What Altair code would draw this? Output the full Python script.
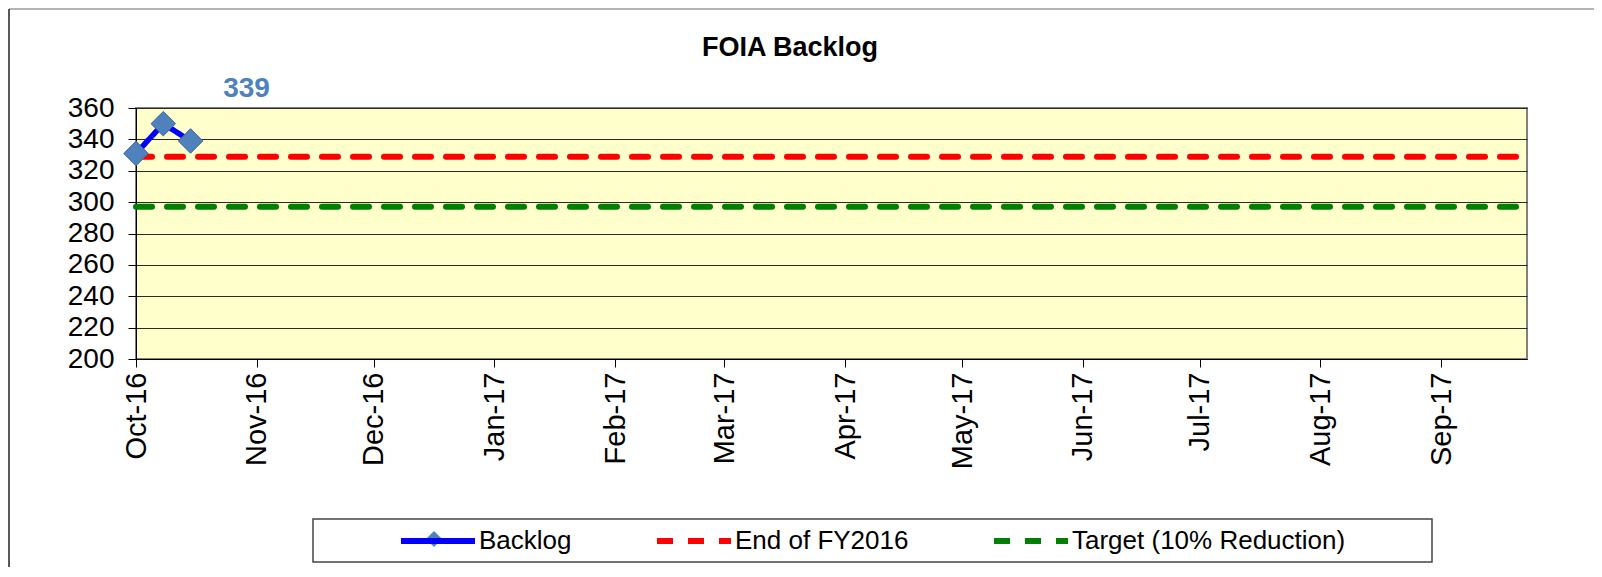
import altair as alt
import pandas as pd

# ---- data ----
series_names = ["Backlog", "End of FY2016", "Target (10% Reduction)"]
series_colors = ["#0000FF", "#FF0000", "#008000"]

backlog_dates = ["2016-10-01", "2016-10-08", "2016-10-15"]
backlog_values = [331, 350, 339]

ref_dates = ["2016-10-01", "2017-09-23"]
fy2016_end = 329
target_value = 297

month_ticks = [(2016, 10), (2016, 11), (2016, 12), (2017, 1), (2017, 2), (2017, 3),
               (2017, 4), (2017, 5), (2017, 6), (2017, 7), (2017, 8), (2017, 9)]
y_ticks = [200, 220, 240, 260, 280, 300, 320, 340, 360]
chart_title = "FOIA Backlog"

# ---- tables ----
rows = []
for d, v in zip(backlog_dates, backlog_values):
    rows.append({"series": "Backlog", "date": d, "value": v})
for d in ref_dates:
    rows.append({"series": "End of FY2016", "date": d, "value": fy2016_end})
for d in ref_dates:
    rows.append({"series": "Target (10% Reduction)", "date": d, "value": target_value})
df = pd.DataFrame(rows)
bdf = pd.DataFrame({"series": "Backlog", "date": backlog_dates, "value": backlog_values})
last_df = bdf.tail(1)

FONT = "Liberation Sans"
W, H = 1391, 251

x_enc = alt.X(
    "date:T",
    scale=alt.Scale(type="utc",
                    domain=[alt.DateTime(year=2016, month=10, date=1, utc=True),
                            alt.DateTime(year=2017, month=9, date=23, utc=True)]),
    axis=alt.Axis(
        values=[alt.DateTime(year=y, month=m, date=1, utc=True) for y, m in month_ticks],
        format="%b-%y", labelAngle=270, labelFontSize=29, labelFont=FONT,
        labelColor="black", tickSize=8, tickColor="black", labelPadding=5,
        domainColor="black", grid=False, title=None, labelOverlap=False,
    ),
)
y_enc = alt.Y(
    "value:Q",
    scale=alt.Scale(domain=[200, 360], nice=False, zero=False),
    axis=alt.Axis(
        values=y_ticks, labelFontSize=28, labelFont=FONT, labelColor="black",
        tickSize=8, tickColor="black", labelPadding=14, domainColor="black",
        grid=True, gridColor="#2a2a2a", gridWidth=1, title=None,
        labelOverlap=False, labelFlush=False,
    ),
)

color_scale = alt.Scale(domain=series_names, range=series_colors)
dash_scale = alt.Scale(domain=series_names, range=[[1, 0], [16, 15], [16, 15]])

lines = alt.Chart(df).mark_line(strokeCap="round", strokeJoin="round").encode(
    x=x_enc,
    y=y_enc,
    color=alt.Color("series:N", scale=color_scale,
                    legend=alt.Legend(
                        title=None, orient="none", direction="horizontal",
                        legendX=262, legendY=393, offset=0,
                        symbolType="stroke", symbolSize=5476, symbolStrokeWidth=6,
                        labelFontSize=26, labelFont=FONT, labelColor="black",
                        labelOffset=1, columnPadding=73, labelLimit=500, padding=0,
                    )),
    strokeDash=alt.StrokeDash("series:N", scale=dash_scale, legend=None),
    strokeWidth=alt.condition(alt.datum.series == "Backlog", alt.value(5.5), alt.value(6)),
    detail="series:N",
)

points = alt.Chart(bdf).mark_point(
    shape="diamond", filled=True, size=600, fill="#4F81BD", stroke="#3A6596",
    strokeWidth=1, opacity=1,
).encode(x=x_enc, y=y_enc)

label = alt.Chart(last_df).mark_text(
    dx=56, dy=-44, baseline="alphabetic", align="center", fontSize=28,
    fontWeight="bold", font=FONT, color="#4F81BD",
).encode(x=x_enc, y=y_enc, text=alt.Text("value:Q"))

one = alt.Data(values=[{"a": 1}])
legend_box = alt.Chart(one).mark_rect(fill="white", stroke="#444", strokeWidth=1.5).encode(
    x=alt.value(177), x2=alt.value(1296), y=alt.value(411), y2=alt.value(454)
)
legend_diamond = alt.Chart(one).mark_point(
    shape="diamond", filled=True, size=260, fill="#4F81BD", opacity=1
).encode(x=alt.value(298), y=alt.value(431))
frame_top = alt.Chart(one).mark_rule(stroke="#9a9a9a", strokeWidth=1.5).encode(
    x=alt.value(-127), x2=alt.value(1520), y=alt.value(-99)
)
frame_left = alt.Chart(one).mark_rule(stroke="#222222", strokeWidth=1.5).encode(
    x=alt.value(-127), y=alt.value(-99), y2=alt.value(520)
)
title_text = alt.Chart(one).mark_text(
    text=chart_title, fontSize=27, fontWeight="bold", font=FONT, color="black",
    align="center", baseline="alphabetic",
).encode(x=alt.value(654), y=alt.value(-52))

chart = alt.layer(frame_top, frame_left, title_text, legend_box, lines, points, label,
                  legend_diamond).properties(
    width=W, height=H,
    autosize=alt.AutoSizeParams(type="none"),
    padding={"left": 128, "top": 100, "right": 67, "bottom": 208},
).configure(
    background="white"
).configure_view(
    fill="#FFFFCC", stroke="#808080", strokeWidth=2
).configure_axis(labelOverlap=False)

chart.save("out.html", embed_options={"renderer": "svg", "actions": False})
